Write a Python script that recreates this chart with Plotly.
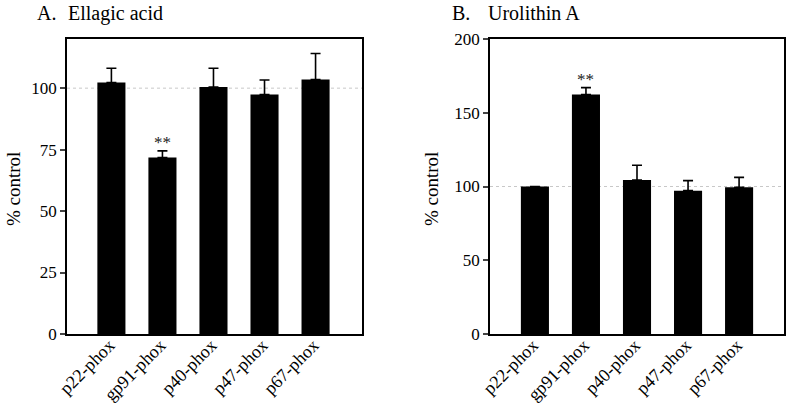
import plotly.graph_objects as go

categories = ["p22-phox", "gp91-phox", "p40-phox", "p47-phox", "p67-phox"]
ellagic_values = [102.3, 71.8, 100.5, 97.4, 103.5]
ellagic_err = [5.8, 2.7, 7.6, 5.9, 10.6]
urolithin_values = [100.0, 162.3, 104.4, 97.2, 99.5]
urolithin_err = [None, 4.7, 10.0, 6.8, 6.7]
ellagic_ticks = [0, 25, 50, 75, 100]
urolithin_ticks = [0, 50, 100, 150, 200]

W, H = 787, 404
FONT = "Times New Roman, Liberation Serif, serif"

fig = go.Figure()

def px_x(p):
    return p / W

def px_y(p):
    return 1 - p / H

fig.add_trace(go.Bar(
    x=categories, y=ellagic_values, xaxis="x", yaxis="y",
    marker=dict(color="black", line=dict(width=0)), width=0.55,
    error_y=dict(type="data", symmetric=False, array=ellagic_err,
                 arrayminus=[0] * 5, color="black", thickness=1.6, width=5),
    showlegend=False))
fig.add_trace(go.Bar(
    x=categories, y=urolithin_values, xaxis="x2", yaxis="y2",
    marker=dict(color="black", line=dict(width=0)), width=0.55,
    error_y=dict(type="data", symmetric=False, array=urolithin_err,
                 arrayminus=[0] * 5, color="black", thickness=1.6, width=5),
    showlegend=False))

axis_common = dict(showline=True, linecolor="black", linewidth=1.5, mirror=True,
                   showgrid=False, zeroline=False, automargin=False)
ydom = [px_y(334), px_y(39)]
xtick_style = dict(ticks="", tickangle=-45, tickfont=dict(family=FONT, size=18),
                   ticklabelstandoff=-8, ticklabelshift=-2)

fig.update_layout(
    width=W, height=H, margin=dict(l=0, r=0, t=0, b=0, autoexpand=False),
    paper_bgcolor="white", plot_bgcolor="white",
    font=dict(family=FONT, color="black", size=16),
    xaxis=dict(domain=[px_x(67), px_x(362)], range=[-0.87, 4.91], anchor="y",
               **xtick_style, **axis_common),
    yaxis=dict(domain=ydom, range=[0, 120], tickvals=ellagic_ticks, ticks="outside",
               ticklen=5, tickwidth=1.5, tickfont=dict(family=FONT, size=17), anchor="x", **axis_common),
    xaxis2=dict(domain=[px_x(490), px_x(784)], range=[-0.88, 4.88], anchor="y2",
                **xtick_style, **axis_common),
    yaxis2=dict(domain=ydom, range=[0, 200], tickvals=urolithin_ticks, ticks="outside",
                ticklen=5, tickwidth=1.5, tickfont=dict(family=FONT, size=17), anchor="x2", **axis_common),
)

# reference lines at 100%
for xr, yr in [("x", "y"), ("x2", "y2")]:
    fig.add_shape(type="line", xref=xr + " domain", yref=yr, x0=0, x1=1, y0=100, y1=100,
                  line=dict(color="#c8c8c8", width=1, dash="dot"), layer="below")

FT = dict(family=FONT, size=20)
FY = dict(family=FONT, size=19)
ann = []
ann.append(dict(text="A.", x=px_x(35), y=px_y(0), xref="paper", yref="paper",
                xanchor="left", yanchor="top", showarrow=False, font=FT))
ann.append(dict(text="Ellagic acid", x=px_x(66), y=px_y(0), xref="paper", yref="paper",
                xanchor="left", yanchor="top", showarrow=False, font=FT))
ann.append(dict(text="B.", x=px_x(450), y=px_y(0), xref="paper", yref="paper",
                xanchor="left", yanchor="top", showarrow=False, font=FT))
ann.append(dict(text="Urolithin A", x=px_x(486), y=px_y(0), xref="paper", yref="paper",
                xanchor="left", yanchor="top", showarrow=False, font=FT))
ann.append(dict(text="% control", x=px_x(13), y=px_y(189), xref="paper", yref="paper",
                xanchor="center", yanchor="middle", textangle=-90, showarrow=False,
                font=FY))
ann.append(dict(text="% control", x=px_x(431), y=px_y(189), xref="paper", yref="paper",
                xanchor="center", yanchor="middle", textangle=-90, showarrow=False,
                font=FY))
ann.append(dict(text="**", x=categories[1], y=ellagic_values[1] + ellagic_err[1], xref="x", yref="y",
                xanchor="center", yanchor="bottom", yshift=-3, showarrow=False,
                font=dict(family=FONT, size=17, color="#222")))
ann.append(dict(text="**", x=categories[1], y=urolithin_values[1] + urolithin_err[1], xref="x2", yref="y2",
                xanchor="center", yanchor="bottom", yshift=-3, showarrow=False,
                font=dict(family=FONT, size=17, color="#222")))
fig.update_layout(annotations=ann)

fig.write_html("out.html", config={"displayModeBar": False},
               post_script="document.body.style.margin='0';document.body.style.overflow='hidden';")
